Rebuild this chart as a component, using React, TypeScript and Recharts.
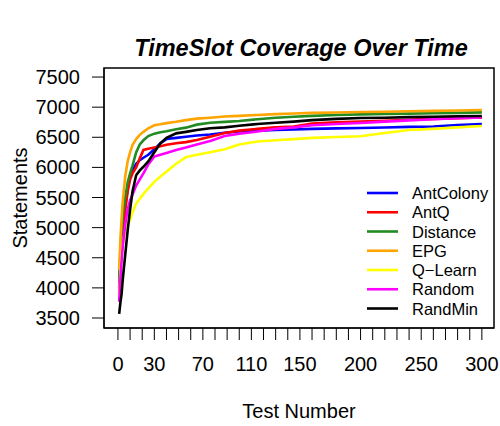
import React from "react";
import { LineChart, Line, XAxis, YAxis, ReferenceArea } from "recharts";

const testNumbers = [1, 2, 3, 4, 6, 8, 10, 12, 15, 18, 21, 25, 30, 35, 40, 48, 56, 65, 76, 88, 100, 115, 130, 145, 160, 180, 200, 220, 240, 260, 280, 300];

const antColony = [4000, 4400, 4750, 5000, 5350, 5650, 5850, 5960, 6060, 6120, 6160, 6210, 6300, 6400, 6470, 6490, 6510, 6530, 6545, 6575, 6595, 6610, 6620, 6630, 6640, 6648, 6655, 6662, 6672, 6680, 6705, 6720];
const antQ = [3900, 4300, 4650, 4900, 5300, 5600, 5800, 5900, 6000, 6150, 6290, 6310, 6330, 6350, 6375, 6400, 6420, 6455, 6510, 6570, 6610, 6640, 6665, 6680, 6730, 6750, 6760, 6775, 6790, 6805, 6818, 6830];
const distance = [4150, 4600, 4950, 5200, 5500, 5750, 5900, 6030, 6250, 6380, 6450, 6520, 6560, 6585, 6600, 6632, 6660, 6710, 6740, 6755, 6770, 6800, 6825, 6840, 6855, 6870, 6880, 6886, 6892, 6898, 6905, 6914];
const epg = [4300, 4800, 5150, 5450, 5850, 6100, 6250, 6370, 6470, 6540, 6590, 6650, 6700, 6715, 6735, 6758, 6785, 6810, 6825, 6845, 6855, 6870, 6885, 6895, 6905, 6912, 6920, 6925, 6932, 6938, 6945, 6952];
const qLearn = [3850, 4250, 4550, 4750, 4950, 5050, 5130, 5250, 5400, 5480, 5560, 5650, 5760, 5850, 5930, 6060, 6170, 6210, 6250, 6300, 6380, 6430, 6450, 6470, 6490, 6505, 6516, 6570, 6620, 6640, 6665, 6687];
const random = [3770, 4150, 4450, 4700, 5050, 5300, 5450, 5550, 5700, 5800, 5900, 6050, 6180, 6210, 6240, 6290, 6330, 6380, 6440, 6520, 6560, 6595, 6640, 6665, 6700, 6720, 6736, 6760, 6780, 6800, 6815, 6831];
const randMin = [3570, 3750, 3900, 4150, 4550, 4950, 5300, 5600, 5870, 5950, 6010, 6100, 6250, 6400, 6490, 6565, 6590, 6620, 6650, 6665, 6690, 6720, 6740, 6760, 6785, 6805, 6819, 6825, 6835, 6842, 6848, 6853];

const seriesNames = ["AntColony", "AntQ", "Distance", "EPG", "Q\u2212Learn", "Random", "RandMin"];
const seriesValues = [antColony, antQ, distance, epg, qLearn, random, randMin];
const seriesColors = ["#0000FF", "#FF0000", "#228B22", "#FFA500", "#FFFF00", "#FF00FF", "#000000"];

const xTicks = Array.from({ length: 31 }, (_, i) => i * 10);
const xTickLabels = [0, 30, 70, 110, 150, 200, 250, 300];
const yTicks = [3500, 4000, 4500, 5000, 5500, 6000, 6500, 7000, 7500];

const X_DOMAIN: [number, number] = [-11.5, 310];
const Y_DOMAIN: [number, number] = [3334, 7650];

const PLOT_LEFT = 104;
const FONT = "'Liberation Sans', Arial, Helvetica, sans-serif";

const data = testNumbers.map((t, i) => {
  const row: Record<string, number> = { t };
  seriesNames.forEach((n, k) => {
    row[n] = seriesValues[k][i];
  });
  return row;
});

const XTick = (props: any) => {
  const { x, y, payload } = props;
  if (!xTickLabels.includes(payload.value)) return <g />;
  return (
    <text x={x} y={y + 29} textAnchor="middle" fontSize={20} fontFamily={FONT} fill="#000">
      {payload.value}
    </text>
  );
};

const YTick = (props: any) => {
  const { y, payload } = props;
  return (
    <text x={PLOT_LEFT - 24} y={y + 7} textAnchor="end" fontSize={20} fontFamily={FONT} fill="#000">
      {payload.value}
    </text>
  );
};

export default function App() {
  return (
    <div style={{ position: "absolute", left: 0, top: 0, width: 500, height: 426, background: "#fff" }}>
      <LineChart
        width={500}
        height={426}
        data={data}
        margin={{ top: 68, right: 6, bottom: 0, left: 0 }}
      >
        <XAxis
          dataKey="t"
          type="number"
          domain={X_DOMAIN}
          ticks={xTicks}
          interval={0}
          allowDataOverflow
          height={98}
          tickSize={12}
          tickMargin={2}
          tickLine={{ stroke: "#000", strokeWidth: 1 }}
          axisLine={{ stroke: "#000", strokeWidth: 1 }}
          tick={<XTick />}
          label={{
            content: (p: any) => {
              const vb = p.viewBox;
              return (
                <text x={vb.x + vb.width / 2} y={vb.y + 90} textAnchor="middle" fontSize={20} fontFamily={FONT} fill="#000">
                  Test Number
                </text>
              );
            },
          }}
        />
        <YAxis
          type="number"
          domain={Y_DOMAIN}
          ticks={yTicks}
          interval={0}
          allowDataOverflow
          width={PLOT_LEFT}
          tickSize={12}
          tickMargin={12}
          tickLine={{ stroke: "#000", strokeWidth: 1 }}
          axisLine={{ stroke: "#000", strokeWidth: 1 }}
          tick={<YTick />}
          label={{
            content: (p: any) => {
              const vb = p.viewBox;
              const cx = vb.x + 27;
              const cy = vb.y + vb.height / 2;
              return (
                <text x={cx} y={cy} transform={`rotate(-90 ${cx} ${cy})`} textAnchor="middle" fontSize={20} fontFamily={FONT} fill="#000">
                  Statements
                </text>
              );
            },
          }}
        />
        <ReferenceArea
          x1={X_DOMAIN[0]}
          x2={X_DOMAIN[1]}
          y1={Y_DOMAIN[0]}
          y2={Y_DOMAIN[1]}
          fill="none"
          stroke="#000"
          strokeWidth={1.5}
          ifOverflow="visible"
        />
        {seriesNames.map((n, k) => (
          <Line
            key={n}
            dataKey={n}
            type="linear"
            stroke={seriesColors[k]}
            strokeWidth={2.6}
            dot={false}
            activeDot={false}
            isAnimationActive={false}
          />
        ))}
      </LineChart>
      <div
        style={{
          position: "absolute",
          left: 0,
          top: 35,
          width: 602,
          textAlign: "center",
          fontFamily: FONT,
          fontWeight: "bold",
          fontStyle: "italic",
          fontSize: 23.5,
          lineHeight: "26px",
          color: "#000",
        }}
      >
        TimeSlot Coverage Over Time
      </div>
      <svg style={{ position: "absolute", left: 0, top: 0 }} width={500} height={426}>
        {seriesNames.map((n, k) => {
          const cy = 193 + k * 19.25;
          return (
            <g key={n}>
              <line x1={367} x2={398} y1={cy} y2={cy} stroke={seriesColors[k]} strokeWidth={2.6} />
              <text x={412} y={cy + 6} fontSize={16.5} fontFamily={FONT} fill="#000">
                {n}
              </text>
            </g>
          );
        })}
      </svg>
    </div>
  );
}
